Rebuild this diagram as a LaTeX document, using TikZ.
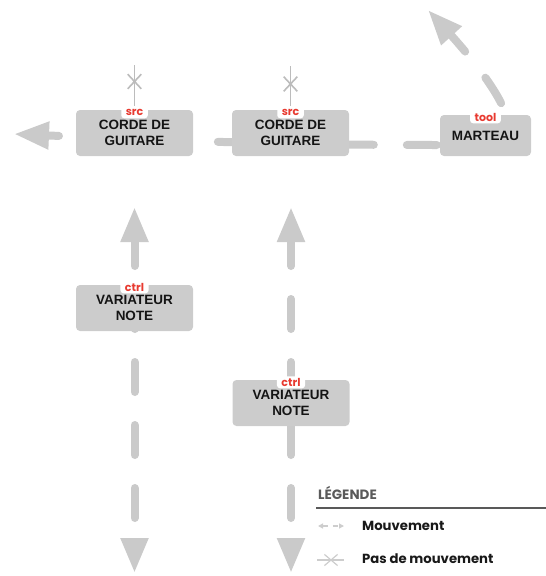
\documentclass[tikz,border=0pt]{standalone}
\usepackage{fontspec}
\usetikzlibrary{arrows.meta,shapes.misc,backgrounds}
\newfontfamily\boxfamily{Liberation Sans}
\newfontfamily\legfamily{Poppins}
\definecolor{boxgray}{RGB}{204,204,204}
\definecolor{lingray}{RGB}{202,202,202}
\definecolor{xgray}{RGB}{188,188,188}
\definecolor{tagred}{RGB}{232,58,48}
\definecolor{legtitle}{RGB}{90,90,90}
\definecolor{legtext}{RGB}{25,25,25}
\definecolor{legicon}{RGB}{205,205,205}
\begin{document}
\begin{tikzpicture}[x=1pt,y=-1pt,
  box/.style={fill=boxgray, rounded corners=4pt, minimum width=117pt, minimum height=46pt,
    inner sep=0pt, align=center, text=black!92,
    font=\boxfamily\bfseries\fontsize{13.5}{15.5}\selectfont},
  tagbox/.style={fill=white, rounded corners=3pt, inner xsep=4.5pt, inner ysep=0pt,
    minimum height=12pt, text=tagred, font=\legfamily\bfseries\fontsize{11}{11}\selectfont},
  mov/.style={draw=lingray, line width=8pt, line cap=round, dash pattern=on 30pt off 33pt,
    >={Triangle[length=35pt,width=26pt]}},
  nomov/.style={draw=xgray, line width=1.8pt},
  xmark/.style={cross out, draw=xgray, line width=1.6pt, minimum width=12pt, minimum height=13pt, inner sep=0pt},
  legtitlestyle/.style={anchor=west, inner sep=0pt, text=legtitle, font=\legfamily\bfseries\fontsize{13.5}{16}\selectfont},
  legitem/.style={anchor=west, inner sep=0pt, text=legtext, font=\legfamily\bfseries\fontsize{13.2}{16}\selectfont},
  legrule/.style={draw=black!65, line width=1.2pt},
  legmov/.style={draw=legicon, line width=1.5pt, dash pattern=on 5pt off 5pt,
    >={Triangle[length=5pt,width=5pt]}},
  legnomov/.style={draw=legicon, line width=1.2pt},
  legx/.style={cross out, draw=legicon, line width=1.2pt, minimum width=12pt, minimum height=10pt, inner sep=0pt}
]
\useasboundingbox (0,0) rectangle (546,576);

% boxes
\node[box] (b1) at (134.5,133) {CORDE DE\\GUITARE};
\node[box] (b2) at (290.5,133) {CORDE DE\\GUITARE};
\node[box, minimum width=91pt, minimum height=41pt] (b3) at (485.5,135.5) {MARTEAU};
\node[box] (b4) at (134.5,308) {VARIATEUR\\NOTE};
\node[box] (b5) at (291,403) {VARIATEUR\\NOTE};

% tags
\node[tagbox] (t1) at ([yshift=-2.5pt]b1.north) {src};
\node[tagbox] (t2) at ([yshift=-2.5pt]b2.north) {src};
\node[tagbox] (t3) at ([yshift=-2.5pt]b3.north) {tool};
\node[tagbox] (t4) at ([yshift=-2.5pt]b4.north) {ctrl};
\node[tagbox] (t5) at ([yshift=-2.5pt]b5.north) {ctrl};

% free ends
\coordinate (cl) at (14,134);
\coordinate (ct) at (428,10);
\coordinate (c1t) at (134.5,207);
\coordinate (c1b) at (134.5,573);
\coordinate (c2t) at (291,207);
\coordinate (c2b) at (291,573);
\coordinate (x1) at (134.5,65);
\coordinate (x2) at (290.5,66);

\begin{scope}[on background layer]
  \draw[mov,<->,dash phase=18pt] (cl) .. controls (200,142) and (300,145) .. (440,145)
     .. controls (490,145) and (512,128) .. (505,112)
     .. controls (495,85) and (460,45) .. (ct);
  \draw[mov,<->,dash phase=4pt] (c1t) -- (c1b);
  \draw[mov,<->,dash phase=4pt] (c2t) -- (c2b);
  \draw[nomov] (x1) -- (t1);
  \draw[nomov] (x2) -- (t2);
\end{scope}
\node[xmark] (k1) at (134.5,81.5) {};
\node[xmark] (k2) at (290.5,84) {};

% legend
\node[legtitlestyle] (lt) at (318,493) {LÉGENDE};
\coordinate (lr1) at (316,508);
\coordinate (lr2) at (546,508);
\draw[legrule] (lr1) -- (lr2);
\node[legitem] (lm) at (362,526) {Mouvement};
\node[legitem] (lp) at (362,559) {Pas de mouvement};
\coordinate (im1) at (318,526);
\coordinate (im2) at (344,526);
\draw[legmov,<->] (im1) -- (im2);
\coordinate (ip1) at (317,560);
\coordinate (ip2) at (344,560);
\draw[legnomov] (ip1) -- (ip2);
\node[legx] (lx) at (331,560) {};
\end{tikzpicture}
\end{document}
